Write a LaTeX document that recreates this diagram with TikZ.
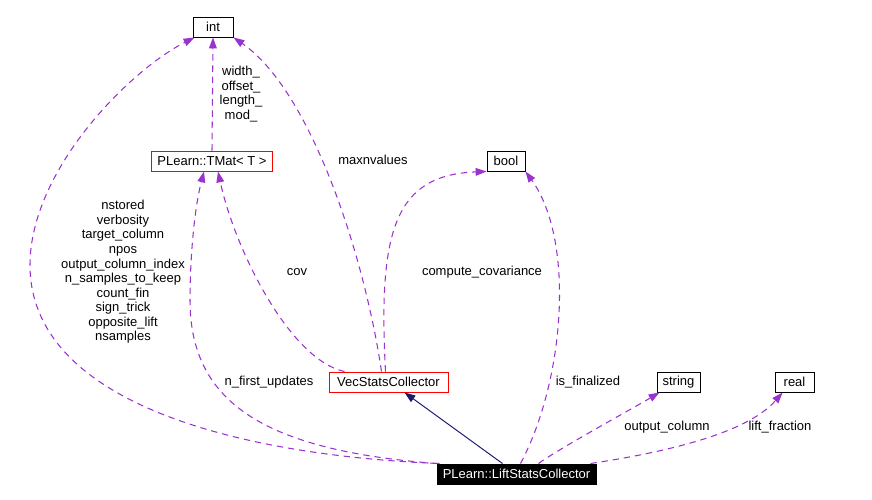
\documentclass[tikz,border=0pt]{standalone}
\usepackage{fontspec}
\setmainfont{Liberation Sans}
\usetikzlibrary{arrows.meta, calc}

\definecolor{orchid}{RGB}{154,50,205}
\definecolor{mblue}{RGB}{25,25,112}

\begin{document}
\begin{tikzpicture}[
  x=0.02cm, y=-0.02cm, font=\fontsize{7.4}{8.3}\selectfont,
  cl/.style={rectangle, draw, line width=0.55pt, minimum height=0.4cm, inner xsep=2pt, inner ysep=0pt},
  tp/.style={cl, draw=red},
  cur/.style={cl, fill=black, text=white},
  lb/.style={align=center, inner sep=0pt},
  % usage = dashed orchid, inheritance = solid navy
  us/.style={orchid, line width=0.6pt, dash pattern=on 3.6pt off 2.8pt, -{Triangle[length=6.2pt,width=4.4pt]}},
  ih/.style={mblue, line width=0.55pt, -{Triangle[length=6.2pt,width=4.4pt]}}]
\useasboundingbox (0,0) rectangle (872,500);

% ---- classes ----
\node[cl, minimum width=0.8cm] (int) at (213,27) {int};
\node[tp, minimum width=2.42cm] (tmat) at (212,161) {PLearn::TMat< T >};
\node[cl, minimum width=0.76cm] (bool) at (506,161) {bool};
\node[tp, minimum width=2.38cm] (vsc) at (388.5,382) {VecStatsCollector};
\node[cl, minimum width=0.86cm] (str) at (678.5,382) {string};
\node[cl, minimum width=0.78cm] (real) at (794.5,382) {real};
\node[cur, minimum width=3.18cm] (lsc) at (516.5,474) {PLearn::LiftStatsCollector};

% ---- members ----
\draw[us] ($(lsc.north west)+(3,0)$) .. controls (230,455) and (30,400) .. (30,265)
  .. controls (30,170) and (130,70) .. ($(int.south west)+(2,0)$);
\draw[us] (lsc.north west) .. controls (260,450) and (190,400) .. (190,300)
  .. controls (190,260) and (194,210) .. ($(tmat.south west)+(53,0)$);
\draw[us] ($(vsc.north west)+(16,0)$) .. controls (290,360) and (235,250) .. ($(tmat.south)+(6,0)$);
\draw[us] (tmat.north) -- (int.south);
\draw[us] ($(vsc.north)+(-7,0)$) .. controls (364,253) and (310,90) .. (int.south east);
\draw[us] ($(vsc.north)+(-3,0)$) .. controls (378,230) and (395,175) .. (bool.south west);
\draw[ih] ($(lsc.north)+(-14,0)$) -- ($(vsc.south)+(16,0)$);
\draw[us] ($(lsc.north)+(4,0)$) .. controls (565,380) and (575,240) .. (bool.south east);
\draw[us] ($(lsc.north)+(22,0)$) .. controls (560,448) and (630,410) .. ($(str.south west)+(3,0)$);
\draw[us] ($(lsc.north east)+(-6,0)$) .. controls (680,450) and (750,430) .. ($(real.south west)+(8,0)$);

% ---- labels ----
\node[lb] (lmany) at (123,272) {nstored\\verbosity\\target\_column\\npos\\output\_column\_index\\n\_samples\_to\_keep\\count\_fin\\sign\_trick\\opposite\_lift\\nsamples};
\node[lb] (lwid) at (241,94) {width\_\\offset\_\\length\_\\mod\_};
\node[lb] (lmax) at (373,160) {maxnvalues};
\node[lb] (lcov) at (297,272) {cov};
\node[lb] (lcomp) at (482,272) {compute\_covariance};
\node[lb] (lnfu) at (269,382) {n\_first\_updates};
\node[lb] (lfin) at (588,382) {is\_finalized};
\node[lb] (lout) at (667,427) {output\_column};
\node[lb] (llift) at (780,427) {lift\_fraction};
\end{tikzpicture}
\end{document}
